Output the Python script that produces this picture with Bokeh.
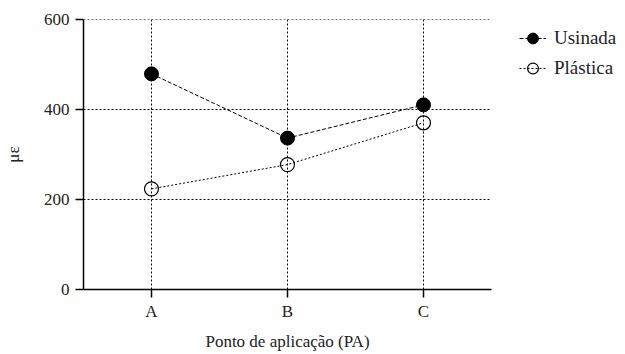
from bokeh.plotting import figure
from bokeh.models import Legend, LegendItem, FixedTicker, Range1d, FactorRange
from bokeh.embed import file_html
from bokeh.resources import INLINE

categories = ["A", "B", "C"]
usinada = [480, 337, 411]
plastica = [224, 278, 371]
y_ticks = [0, 200, 400, 600]

FONT = "Liberation Serif"

p = figure(x_range=FactorRange(*categories, range_padding=0), y_range=Range1d(0, 601),
           frame_width=408, frame_height=270,
           output_backend="svg", toolbar_location=None)
p.min_border_left = 74
p.min_border_top = 19
p.min_border_bottom = 10
p.min_border_right = 0
p.outline_line_color = None
p.background_fill_color = "white"

for g in (p.xgrid, p.ygrid):
    g.grid_line_color = "black"
    g.grid_line_dash = "2 2"
    g.grid_line_width = 1
p.ygrid.ticker = FixedTicker(ticks=y_ticks)

p.yaxis.ticker = FixedTicker(ticks=y_ticks)
for ax in (p.xaxis, p.yaxis):
    ax.axis_line_color = "black"
    ax.axis_line_width = 1.5
    ax.major_tick_line_color = "black"
    ax.major_tick_line_width = 1.5
    ax.major_tick_out = 8
    ax.major_tick_in = 0
    ax.minor_tick_line_color = None
    ax.major_label_text_font = FONT
    ax.major_label_text_font_size = "17px"
    ax.major_label_text_color = "#222222"
    ax.axis_label_text_font = FONT
    ax.axis_label_text_font_size = "17px"
    ax.axis_label_text_font_style = "normal"
    ax.axis_label_text_color = "#222222"
p.xaxis.axis_label = "Ponto de aplicação (PA)"
p.yaxis.axis_label = "με"
p.xaxis.major_label_standoff = 4
p.yaxis.major_label_standoff = 6
p.xaxis.axis_label_standoff = 8
p.yaxis.axis_label_standoff = 18

l1 = p.line(categories, usinada, line_color="black", line_dash="4 2", line_width=1)
s1 = p.scatter(categories, usinada, size=14, marker="circle", fill_color="black", line_color="black")
l2 = p.line(categories, plastica, line_color="black", line_dash="2 2", line_width=1)
s2 = p.scatter(categories, plastica, size=14, marker="circle", fill_color=None, line_color="black", line_width=1.2)

legend = Legend(items=[LegendItem(label="Usinada", renderers=[l1, s1]),
                       LegendItem(label="Plástica", renderers=[l2, s2])],
                location=(28, 206))
legend.label_text_font = FONT
legend.label_text_font_size = "19px"
legend.label_text_color = "#222222"
legend.border_line_color = None
legend.background_fill_alpha = 0
legend.glyph_width = 27
legend.glyph_height = 30
legend.spacing = 0
legend.label_standoff = 8
legend.padding = 0
legend.margin = 0
p.add_layout(legend, "right")

open("out.html", "w").write(file_html(p, INLINE))
